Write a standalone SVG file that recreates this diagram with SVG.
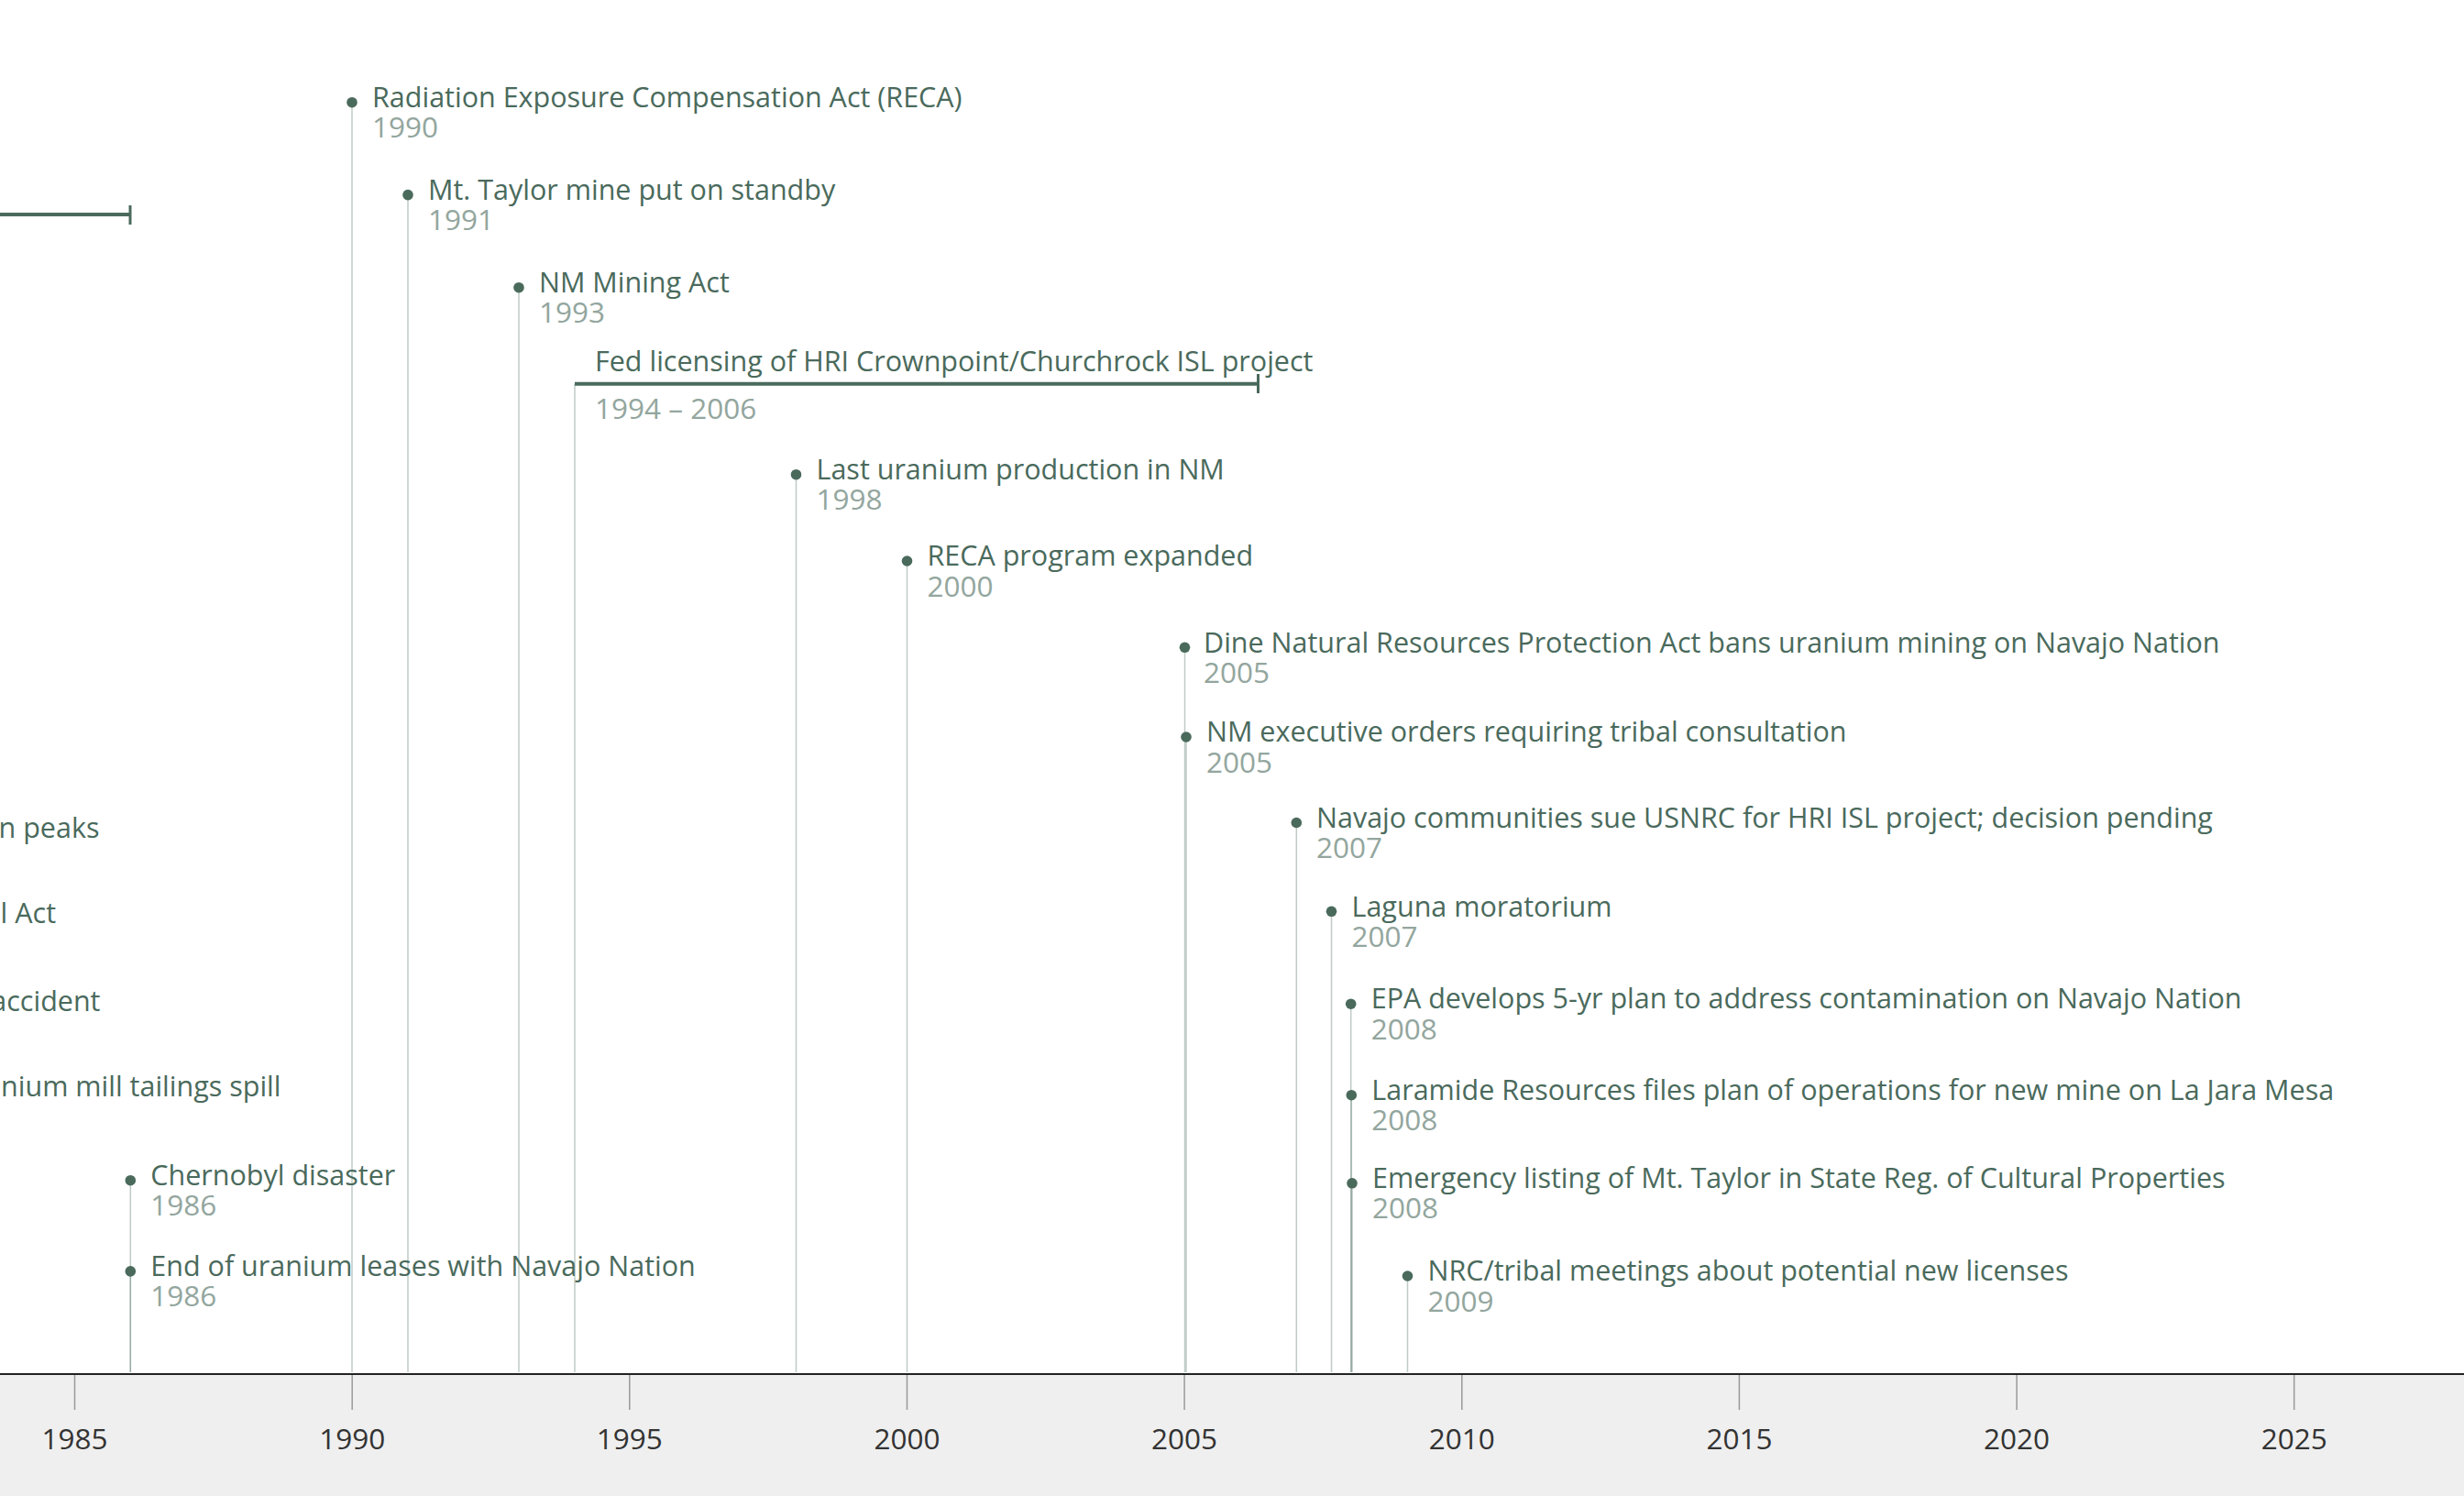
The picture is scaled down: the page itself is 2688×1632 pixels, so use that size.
<svg xmlns="http://www.w3.org/2000/svg" width="2688" height="1632" viewBox="0 0 2688 1632">
<style>
.t{font-family:"Open Sans","Noto Sans",sans-serif;font-size:30.5px;fill:#4a6a5c}
.y{font-family:"Open Sans","Noto Sans",sans-serif;font-size:31.5px;fill:#93a69e}
.ax{font-family:"Open Sans","Noto Sans",sans-serif;font-size:31.5px;fill:#333333;text-anchor:middle}
.st{stroke:#5f7d70;stroke-opacity:0.4;stroke-width:1.5;fill:none}
.bar{stroke:#4a6a5c;stroke-width:4;fill:none}
.cap{stroke:#4a6a5c;stroke-width:3;fill:none}
.tk{stroke:#999999;stroke-width:1.5}
.dot{fill:#4a6a5c}
</style>
<rect x="0" y="0" width="2688" height="1632" fill="#ffffff"/>
<rect x="0" y="1499" width="2688" height="133" fill="#efefef"/>
<g id="connectors">
<line class="st" x1="384" y1="112" x2="384" y2="1497"/>
<line class="st" x1="445" y1="213" x2="445" y2="1497"/>
<line class="st" x1="566" y1="314" x2="566" y2="1497"/>
<line class="st" x1="627" y1="419" x2="627" y2="1497"/>
<line class="st" x1="868.5" y1="518" x2="868.5" y2="1497"/>
<line class="st" x1="989.5" y1="612" x2="989.5" y2="1497"/>
<line class="st" x1="1292.5" y1="706" x2="1292.5" y2="1497"/>
<line class="st" x1="1294" y1="804" x2="1294" y2="1497"/>
<line class="st" x1="1414.3" y1="898" x2="1414.3" y2="1497"/>
<line class="st" x1="1452.5" y1="994" x2="1452.5" y2="1497"/>
<line class="st" x1="1473.7" y1="1095" x2="1473.7" y2="1497"/>
<line class="st" x1="1474.3" y1="1195" x2="1474.3" y2="1497"/>
<line class="st" x1="1475" y1="1291" x2="1475" y2="1497"/>
<line class="st" x1="1535.5" y1="1392" x2="1535.5" y2="1497"/>
<line class="st" x1="142.3" y1="1288" x2="142.3" y2="1497"/>
<line class="st" x1="142.3" y1="1387" x2="142.3" y2="1497"/>
</g>
<g id="span-early">
<line class="bar" x1="-10" y1="234" x2="142" y2="234"/>
<line class="cap" x1="142" y1="224" x2="142" y2="245"/>
</g>
<g id="ev-left1"><text class="t" x="108.5" y="914" text-anchor="end">n peaks</text></g>
<g id="ev-left2"><text class="t" x="61" y="1006.5" text-anchor="end">l Act</text></g>
<g id="ev-left3"><text class="t" x="109.5" y="1102.5" text-anchor="end">accident</text></g>
<g id="ev-left4"><text class="t" x="306.5" y="1195.5" text-anchor="end">nium mill tailings spill</text></g>
<g id="ev-reca"><circle class="dot" cx="384" cy="111.7" r="5.8"/><text class="t" x="406" y="116.5">Radiation Exposure Compensation Act (RECA)</text><text class="y" x="406" y="150">1990</text></g>
<g id="ev-mttaylor"><circle class="dot" cx="445" cy="212.6" r="5.8"/><text class="t" x="467" y="217.5">Mt. Taylor mine put on standby</text><text class="y" x="467" y="251">1991</text></g>
<g id="ev-nmmining"><circle class="dot" cx="566" cy="313.7" r="5.8"/><text class="t" x="588" y="318.5">NM Mining Act</text><text class="y" x="588" y="352">1993</text></g>
<g id="ev-fed"><line class="bar" x1="627" y1="418.7" x2="1373" y2="418.7"/><line class="cap" x1="1372.5" y1="408" x2="1372.5" y2="429"/><text class="t" x="649" y="405">Fed licensing of HRI Crownpoint/Churchrock ISL project</text><text class="y" x="649" y="456.5">1994 – 2006</text></g>
<g id="ev-last"><circle class="dot" cx="868.5" cy="517.7" r="5.8"/><text class="t" x="890.5" y="522.5">Last uranium production in NM</text><text class="y" x="890.5" y="556">1998</text></g>
<g id="ev-recaexp"><circle class="dot" cx="989.5" cy="612" r="5.8"/><text class="t" x="1011.5" y="617">RECA program expanded</text><text class="y" x="1011.5" y="650.5">2000</text></g>
<g id="ev-dine"><circle class="dot" cx="1292.5" cy="706.3" r="5.8"/><text class="t" x="1313" y="711.5">Dine Natural Resources Protection Act bans uranium mining on Navajo Nation</text><text class="y" x="1313" y="745">2005</text></g>
<g id="ev-nmexec"><circle class="dot" cx="1294" cy="804" r="5.8"/><text class="t" x="1316" y="809">NM executive orders requiring tribal consultation</text><text class="y" x="1316" y="842.5">2005</text></g>
<g id="ev-navajo"><circle class="dot" cx="1414.3" cy="897.5" r="5.8"/><text class="t" x="1436" y="902.5">Navajo communities sue USNRC for HRI ISL project; decision pending</text><text class="y" x="1436" y="936">2007</text></g>
<g id="ev-laguna"><circle class="dot" cx="1452.5" cy="994.3" r="5.8"/><text class="t" x="1474.5" y="999.5">Laguna moratorium</text><text class="y" x="1474.5" y="1033">2007</text></g>
<g id="ev-epa"><circle class="dot" cx="1473.7" cy="1095.2" r="5.8"/><text class="t" x="1495.7" y="1100.2">EPA develops 5-yr plan to address contamination on Navajo Nation</text><text class="y" x="1495.7" y="1133.7">2008</text></g>
<g id="ev-laramide"><circle class="dot" cx="1474.3" cy="1194.7" r="5.8"/><text class="t" x="1496.3" y="1199.7">Laramide Resources files plan of operations for new mine on La Jara Mesa</text><text class="y" x="1496.3" y="1233.2">2008</text></g>
<g id="ev-emergency"><circle class="dot" cx="1475" cy="1290.8" r="5.8"/><text class="t" x="1497" y="1295.8">Emergency listing of Mt. Taylor in State Reg. of Cultural Properties</text><text class="y" x="1497" y="1329.3">2008</text></g>
<g id="ev-nrc"><circle class="dot" cx="1535.5" cy="1392" r="5.8"/><text class="t" x="1557.5" y="1397">NRC/tribal meetings about potential new licenses</text><text class="y" x="1557.5" y="1430.5">2009</text></g>
<g id="ev-chernobyl"><circle class="dot" cx="142.3" cy="1287.7" r="5.8"/><text class="t" x="164.3" y="1292.7">Chernobyl disaster</text><text class="y" x="164.3" y="1326.2">1986</text></g>
<g id="ev-leases"><circle class="dot" cx="142.3" cy="1386.9" r="5.8"/><text class="t" x="164.3" y="1391.9">End of uranium leases with Navajo Nation</text><text class="y" x="164.3" y="1425.4">1986</text></g>
<g id="axis">
<line x1="0" y1="1499" x2="2688" y2="1499" stroke="#222222" stroke-width="2"/>
<line class="tk" x1="81.5" y1="1500" x2="81.5" y2="1538"/>
<line class="tk" x1="384.2" y1="1500" x2="384.2" y2="1538"/>
<line class="tk" x1="686.8" y1="1500" x2="686.8" y2="1538"/>
<line class="tk" x1="989.5" y1="1500" x2="989.5" y2="1538"/>
<line class="tk" x1="1292.1" y1="1500" x2="1292.1" y2="1538"/>
<line class="tk" x1="1594.8" y1="1500" x2="1594.8" y2="1538"/>
<line class="tk" x1="1897.4" y1="1500" x2="1897.4" y2="1538"/>
<line class="tk" x1="2200.1" y1="1500" x2="2200.1" y2="1538"/>
<line class="tk" x1="2502.7" y1="1500" x2="2502.7" y2="1538"/>
<text class="ax" x="81.5" y="1581">1985</text>
<text class="ax" x="384.2" y="1581">1990</text>
<text class="ax" x="686.8" y="1581">1995</text>
<text class="ax" x="989.5" y="1581">2000</text>
<text class="ax" x="1292.1" y="1581">2005</text>
<text class="ax" x="1594.8" y="1581">2010</text>
<text class="ax" x="1897.4" y="1581">2015</text>
<text class="ax" x="2200.1" y="1581">2020</text>
<text class="ax" x="2502.7" y="1581">2025</text>
</g>
</svg>
